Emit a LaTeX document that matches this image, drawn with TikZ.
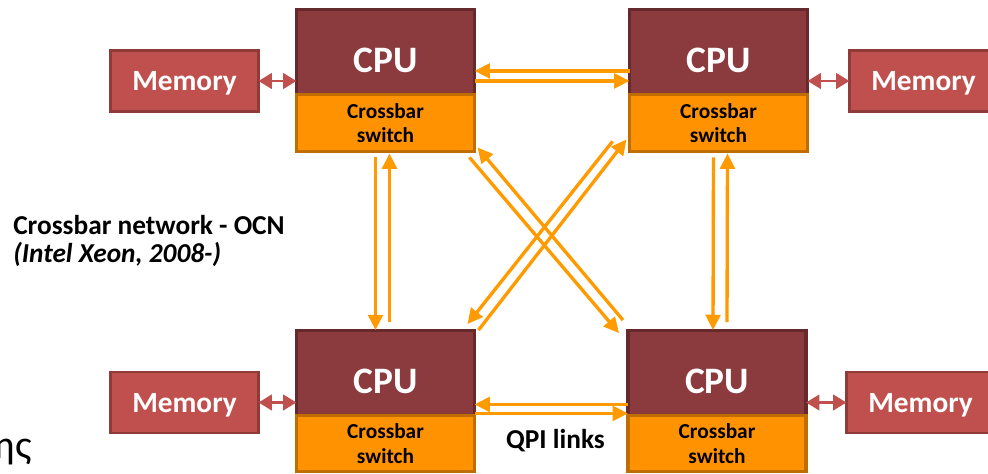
\documentclass[tikz,border=0pt]{standalone}
\usepackage{fontspec}
\setmainfont{Carlito}
\usetikzlibrary{arrows.meta,calc,positioning}

\definecolor{cpured}{HTML}{8B3A3E}
\definecolor{cpuedge}{HTML}{66292C}
\definecolor{memred}{HTML}{C0504D}
\definecolor{memedge}{HTML}{8E3B39}
\definecolor{xborange}{HTML}{FF9200}
\definecolor{xbedge}{HTML}{C06D00}
\definecolor{linkorange}{HTML}{FF9A00}

\begin{document}
\begin{tikzpicture}[x=0.75pt,y=-0.75pt,
    cpu/.style={draw=cpuedge,fill=cpured,line width=2.3pt,minimum width=133.5pt,
        minimum height=64pt,inner sep=0pt,outer sep=0pt,text=white,
        font=\bfseries\fontsize{28}{30}\selectfont,text height=31pt,text depth=0pt},
    xbar/.style={draw=xbedge,fill=xborange,line width=2.3pt,minimum width=133.5pt,
        minimum height=42.4pt,inner sep=0pt,outer sep=0pt,align=center,
        font=\bfseries\fontsize{16}{18.5}\selectfont},
    mem/.style={draw=memedge,fill=memred,line width=2.2pt,minimum width=111pt,
        minimum height=45.75pt,inner sep=0pt,outer sep=0pt,text=white,
        font=\bfseries\fontsize{22}{24}\selectfont,text depth=0pt},
    link/.style={linkorange,line width=2.5pt,-{Triangle[length=11.5pt,width=11pt]}},
    memlink/.style={memred,line width=2.2pt,
        {Triangle[length=10pt,width=11.5pt]}-{Triangle[length=10pt,width=11.5pt]}},
    caption/.style={inner sep=0pt,font=\bfseries\fontsize{20.5}{24}\selectfont}]
    \clip (0,0) rectangle (988,474);

    % processors with their crossbar switches
    \node[cpu] (cpuTL) at (385.5,52.25) {CPU};
    \node[xbar,below=0pt of cpuTL] (xbTL) {Crossbar\\switch};
    \node[cpu] (cpuTR) at (718.5,52.25) {CPU};
    \node[xbar,below=0pt of cpuTR] (xbTR) {Crossbar\\switch};
    \node[cpu] (cpuBL) at (385.5,372.75) {CPU};
    \node[xbar,below=0pt of cpuBL] (xbBL) {Crossbar\\switch};
    \node[cpu] (cpuBR) at (717,372.75) {CPU};
    \node[xbar,below=0pt of cpuBR] (xbBR) {Crossbar\\switch};

    % memories
    \node[mem] (memTL) at (184.5,81) {Memory};
    \node[mem] (memBL) at (184.5,402.5) {Memory};
    \node[mem] (memTR) at (923.5,81) {Memory};
    \node[mem] (memBR) at (920.5,402.5) {Memory};

    \draw[memlink] (memTL.east) -- (memTL.east -| cpuTL.west);
    \draw[memlink] (memBL.east) -- (memBL.east -| cpuBL.west);
    \draw[memlink] (memTR.west) -- (memTR.west -| cpuTR.east);
    \draw[memlink] (memBR.west) -- (memBR.west -| cpuBR.east);

    % QPI links
    \draw[link] ($(cpuTR.south west)+(0,-24)$) -- ($(cpuTL.south east)+(0,-24)$);
    \draw[link] ($(cpuTL.south east)+(0,-14)$) -- ($(cpuTR.south west)+(0,-14)$);
    \draw[link] ($(cpuBR.south west)+(0,-11)$) -- ($(cpuBL.south east)+(0,-11)$);
    \draw[link] ($(cpuBL.south east)+(0,-2)$) -- ($(cpuBR.south west)+(0,-2)$);

    \draw[link] ($(xbTL.south)+(-10,6)$) -- ($(cpuBL.north)+(-10,0)$);
    \draw[link] ($(cpuBL.north)+(4,-8)$) -- ($(xbTL.south)+(4,2)$);
    \draw[link] ($(xbTR.south)+(-5,6)$) -- ($(cpuBR.north)+(-4,0)$);
    \draw[link] ($(cpuBR.north)+(10,-8)$) -- ($(xbTR.south)+(9,2)$);

    \draw[link] ($(xbTL.south east)+(-5,6)$) -- ($(cpuBR.north west)+(-9,3)$);
    \draw[link] ($(cpuBR.north west)+(-5,-10)$) -- ($(xbTL.south east)+(3,-4)$);
    \draw[link] ($(xbTR.south west)+(-17,-10)$) -- ($(cpuBL.north east)+(-7,-6)$);
    \draw[link] ($(cpuBL.north east)+(4,0)$) -- ($(xbTR.south west)+(-3,-12)$);

    % texts
    \node[caption,anchor=base west] (ocn) at (13,234) {Crossbar network - OCN};
    \node[caption,anchor=base west] (xeon) at (13,262) {\textit{(Intel Xeon, 2008-)}};
    \node[caption,anchor=base] (qpi) at (555.5,448) {QPI links};
    \node[anchor=base east,inner sep=0pt,font=\fontsize{30}{30}\selectfont] (greek) at (32,458) {ης};
\end{tikzpicture}
\end{document}
